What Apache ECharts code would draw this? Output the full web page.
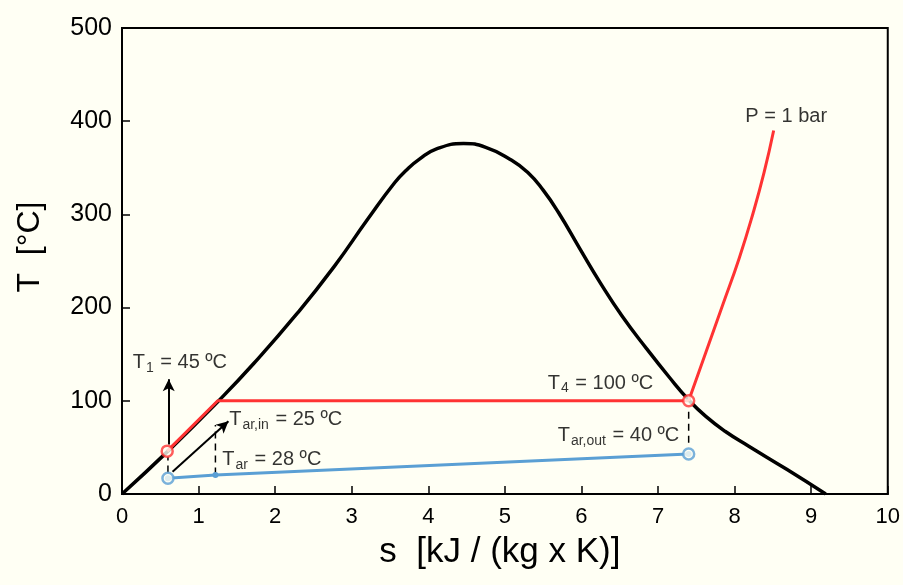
<!DOCTYPE html>
<html>
<head>
<meta charset="utf-8">
<script src="https://cdn.jsdelivr.net/npm/echarts@6/dist/echarts.min.js"></script>
<style>
  html, body { margin: 0; padding: 0; background: #fffff4; }
  #chart { width: 903px; height: 585px; }
</style>
</head>
<body>
<div id="chart"></div>
<script>
// saturation dome of water, [s, T]
var domeS = [0, 0.6, 1.25, 1.72, 2.29, 2.77, 3.21, 3.56, 3.72, 3.88, 4.1, 4.46, 4.75, 5.07, 5.30, 5.50, 5.70, 5.98, 6.25, 6.53, 6.85, 7.15, 7.40, 7.62, 7.88, 8.19, 8.68, 9.19]
var domeT = [0, 46, 99, 140, 194, 244, 295, 334, 348, 359, 370, 376, 372, 359, 345, 326, 302, 263, 226, 191, 156, 125, 101, 83.5, 67, 51, 26.5, 0]

// process line (red): T1 -> boiling -> T4, then P = 1 bar superheat curve
var cycleS = [0.59, 1.25, 7.40]
var cycleT = [46, 100, 100]
var isobarS = [7.40, 7.625, 7.85, 8.06, 8.24, 8.385, 8.51]
var isobarT = [100, 152, 204, 253, 301, 345, 390]

// air line (blue)
var airS = [0.60, 1.22, 7.40]
var airT = [17, 20.5, 43]

// dashed guides [s, Tfrom, Tto]
var dashGuides = [[0.60, 23, 40], [1.22, 21, 74], [7.40, 55, 89]]
// arrows [[s1, T1], [s2, T2]]
var arrows = [[[0.61, 53], [0.61, 123]], [[0.66, 24], [1.39, 78]]]

// annotations: [s, T, text]
var notes = [
    [0.14, 141, '{b|T}{s|1}{b| = 45 ºC}'],
    [1.40, 80, '{b|T}{s|ar,in}{b| = 25 ºC}'],
    [1.31, 37, '{b|T}{s|ar}{b| = 28 ºC}'],
    [5.56, 119, '{b|T}{s|4}{b| = 100 ºC}'],
    [5.69, 63, '{b|T}{s|ar,out}{b| = 40 ºC}'],
    [8.14, 405, '{b|P = 1 bar}'],
]

var xTicks = [0, 1, 2, 3, 4, 5, 6, 7, 8, 9, 10]
var yTicks = [0, 100, 200, 300, 400, 500]

var RED = '#ff3333'
var BLUE = '#5a9fd4'
var BG = '#fffff4'
var FONT = 'Liberation Sans, Arial, sans-serif'

function zip(a, b) {
    return a.map(function (v, i) { return [v, b[i]] })
}

var chart = echarts.init(document.getElementById('chart'))

var series = [
    {
        name: 'dome',
        type: 'line',
        data: zip(domeS, domeT),
        smooth: 0.5,
        showSymbol: false,
        lineStyle: { color: '#000', width: 3.5 },
        z: 2,
    },
    {
        name: 'cycle',
        type: 'line',
        data: zip(cycleS, cycleT),
        showSymbol: false,
        lineStyle: { color: RED, width: 3 },
        z: 3,
    },
    {
        name: 'isobar',
        type: 'line',
        data: zip(isobarS, isobarT),
        smooth: 0.5,
        showSymbol: false,
        lineStyle: { color: RED, width: 3 },
        z: 3,
    },
    {
        name: 'air',
        type: 'line',
        data: zip(airS, airT),
        symbol: 'circle',
        symbolSize: 6,
        itemStyle: { color: BLUE },
        lineStyle: { color: BLUE, width: 3 },
        z: 3,
    },
]

dashGuides.forEach(function (g) {
    series.push({
        type: 'line',
        data: [[g[0], g[1]], [g[0], g[2]]],
        showSymbol: false,
        lineStyle: { color: '#000', width: 1.5, type: [7, 5] },
        z: 2,
    })
})

// end markers (hollow circles)
series.push({
    type: 'scatter',
    data: [[cycleS[0], cycleT[0]], [cycleS[2], cycleT[2]]],
    symbol: 'circle',
    symbolSize: 11,
    itemStyle: { color: BG, borderColor: RED, borderWidth: 2.5 },
    z: 5,
})
series.push({
    type: 'scatter',
    data: [[airS[0], airT[0]], [airS[2], airT[2]]],
    symbol: 'circle',
    symbolSize: 11,
    itemStyle: { color: BG, borderColor: BLUE, borderWidth: 2.5 },
    z: 5,
})

// arrows
series.push({
    type: 'line',
    data: [],
    markLine: {
        silent: true,
        symbol: ['none', 'arrow'],
        symbolSize: [9, 12],
        label: { show: false },
        lineStyle: { color: '#000', width: 2, type: 'solid' },
        data: arrows.map(function (a) {
            return [{ coord: a[0] }, { coord: a[1] }]
        }),
    },
})

// text annotations
series.push({
    type: 'scatter',
    symbolSize: 0,
    silent: true,
    data: notes.map(function (n) {
        return { value: [n[0], n[1]], text: n[2] }
    }),
    label: {
        show: true,
        position: 'right',
        distance: 0,
        formatter: function (p) { return p.data.text },
        rich: {
            b: { fontSize: 20, fontFamily: FONT, color: '#000' },
            s: { fontSize: 14, fontFamily: FONT, color: '#000', padding: [11, 1, 0, 1] },
        },
    },
    z: 6,
})

chart.setOption({
    backgroundColor: BG,
    animation: false,
    grid: {
        left: 122,
        right: 15,
        top: 28,
        bottom: 91,
        show: true,
        borderColor: '#000',
        borderWidth: 2,
        backgroundColor: 'transparent',
    },
    xAxis: {
        type: 'value',
        min: xTicks[0],
        max: xTicks[xTicks.length - 1],
        interval: 1,
        name: 's  [kJ / (kg x K)]',
        nameLocation: 'middle',
        nameGap: 41,
        nameTextStyle: { fontSize: 35, fontFamily: FONT, color: '#000', padding: [0, 10, 0, 0] },
        axisLine: { onZero: false, lineStyle: { color: '#000', width: 2 } },
        axisTick: { inside: true, length: 8, lineStyle: { color: '#000', width: 1.5 } },
        axisLabel: { fontSize: 22, fontFamily: FONT, color: '#000', margin: 12 },
        splitLine: { show: false },
    },
    yAxis: {
        type: 'value',
        min: yTicks[0],
        max: yTicks[yTicks.length - 1],
        interval: 100,
        name: 'T  [°C]',
        nameLocation: 'middle',
        nameGap: 76,
        nameTextStyle: { fontSize: 32, fontFamily: FONT, color: '#000', padding: [0, 0, 0, 28] },
        axisLine: { onZero: false, lineStyle: { color: '#000', width: 2 } },
        axisTick: { inside: true, length: 8, lineStyle: { color: '#000', width: 1.5 } },
        axisLabel: { fontSize: 25, fontFamily: FONT, color: '#000', margin: 10 },
        splitLine: { show: false },
    },
    series: series,
})
</script>
</body>
</html>
